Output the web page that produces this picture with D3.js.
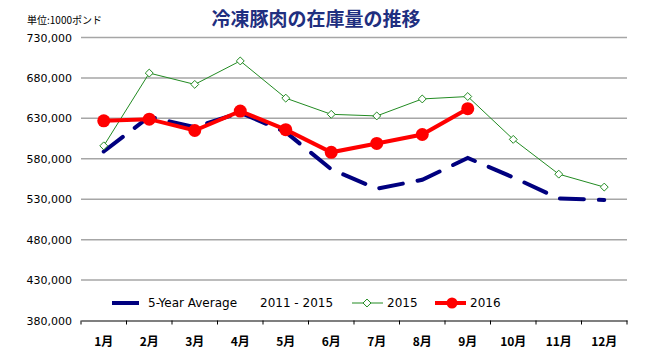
<!DOCTYPE html>
<html>
<head>
<meta charset="utf-8">
<script src="https://cdn.jsdelivr.net/npm/d3@7"></script>
<style>
  body { margin: 0; background: #fff; }
  svg { display: block; }
</style>
</head>
<body>
<div id="chart"></div>
<script>
const months = ["1月", "2月", "3月", "4月", "5月", "6月", "7月", "8月", "9月", "10月", "11月", "12月"];
const avg5 = [589000, 632000, 619000, 637000, 613000, 567000, 543000, 554000, 581000, 557000, 531000, 529000];
const y2015 = [596000, 686000, 672000, 701000, 655000, 635000, 633000, 654000, 657000, 604000, 561000, 545000];
const y2016 = [627000, 629000, 615000, 639000, 616000, 588000, 599000, 610000, 642000];
const yTicks = [380000, 430000, 480000, 530000, 580000, 630000, 680000, 730000];

const width = 650, height = 361;
const margin = { left: 81, right: 23, top: 37.5, bottom: 40 };

const svg = d3.select("#chart").append("svg")
  .attr("width", width)
  .attr("height", height);

const x = d3.scaleBand()
  .domain(months)
  .range([margin.left, width - margin.right]);

const y = d3.scaleLinear()
  .domain([380000, 730000])
  .range([height - margin.bottom - 0.5, margin.top]);

// gridlines
svg.append("g")
  .selectAll("line")
  .data(yTicks.slice(1))
  .enter().append("line")
  .attr("x1", margin.left)
  .attr("x2", width - margin.right)
  .attr("y1", d => y(d))
  .attr("y2", d => y(d))
  .attr("stroke", "#a6a6a6")
  .attr("stroke-width", 1.5);

// y labels
svg.append("g")
  .selectAll("text")
  .data(yTicks)
  .enter().append("text")
  .attr("x", 72)
  .attr("y", d => y(d) + 4)
  .attr("text-anchor", "end")
  .attr("font-family", "DejaVu Sans, sans-serif")
  .attr("font-size", 11)
  .attr("fill", "#000")
  .text(d => d3.format(",")(d));

// x axis
const xAxis = d3.axisBottom(x).tickSize(0).tickFormat(d => d);
const gx = svg.append("g")
  .attr("transform", `translate(0,${y(380000)})`)
  .call(xAxis);
gx.select(".domain").attr("stroke", "#000").attr("stroke-width", 1.2);
gx.selectAll("text")
  .attr("dy", "1.9em")
  .attr("font-family", "Noto Sans CJK JP, sans-serif")
  .attr("font-weight", "bold")
  .attr("font-size", 12)
  .attr("fill", "#000");
gx.selectAll(".bound")
  .data(months.concat(["end"]))
  .enter().append("line")
  .attr("class", "bound")
  .attr("x1", (d, i) => margin.left + i * x.step())
  .attr("x2", (d, i) => margin.left + i * x.step())
  .attr("y1", 0)
  .attr("y2", 4)
  .attr("stroke", "#000");

const cx = i => x(months[i]) + x.bandwidth() / 2;
const line = d3.line().x((d, i) => cx(i)).y(d => y(d));

// 5-year average
svg.append("path")
  .datum(avg5)
  .attr("d", line)
  .attr("fill", "none")
  .attr("stroke", "#00007f")
  .attr("stroke-width", 4)
  .attr("stroke-linecap", "round")
  .attr("stroke-dasharray", "24,15");

// 2015
svg.append("path")
  .datum(y2015)
  .attr("d", line)
  .attr("fill", "none")
  .attr("stroke", "#228b22")
  .attr("stroke-width", 1);
const diamond = d3.symbol().type(d3.symbolDiamond2).size(40);
svg.append("g")
  .selectAll("path")
  .data(y2015)
  .enter().append("path")
  .attr("d", diamond)
  .attr("transform", (d, i) => `translate(${cx(i)},${y(d)})`)
  .attr("fill", "#fff")
  .attr("stroke", "#228b22")
  .attr("stroke-width", 1);

// 2016
svg.append("path")
  .datum(y2016)
  .attr("d", line)
  .attr("fill", "none")
  .attr("stroke", "#ff0000")
  .attr("stroke-width", 4);
svg.append("g")
  .selectAll("circle")
  .data(y2016)
  .enter().append("circle")
  .attr("cx", (d, i) => cx(i))
  .attr("cy", d => y(d))
  .attr("r", 6.5)
  .attr("fill", "#ff0000");

// title and unit
svg.append("text")
  .attr("x", 316)
  .attr("y", 26)
  .attr("text-anchor", "middle")
  .attr("font-family", "Noto Sans CJK JP, sans-serif")
  .attr("font-weight", "bold")
  .attr("font-size", 19)
  .attr("fill", "#1f2f80")
  .text("冷凍豚肉の在庫量の推移");

svg.append("text")
  .attr("x", 27)
  .attr("y", 24)
  .attr("font-family", "Noto Sans CJK JP, sans-serif")
  .attr("font-size", 10)
  .attr("fill", "#000")
  .text("単位:1000ポンド");

// legend
const ly = 303;
const lg = svg.append("g")
  .attr("font-family", "DejaVu Sans, sans-serif")
  .attr("font-size", 12)
  .attr("fill", "#000");
lg.append("line").attr("x1", 112).attr("x2", 139).attr("y1", ly).attr("y2", ly)
  .attr("stroke", "#00007f").attr("stroke-width", 4);
lg.append("text").attr("x", 148).attr("y", ly + 4).text("5-Year Average");
lg.append("text").attr("x", 260).attr("y", ly + 4).text("2011 - 2015");
lg.append("line").attr("x1", 352).attr("x2", 383).attr("y1", ly).attr("y2", ly)
  .attr("stroke", "#228b22").attr("stroke-width", 1);
lg.append("path").attr("d", diamond)
  .attr("transform", `translate(367,${ly})`)
  .attr("fill", "#fff").attr("stroke", "#228b22");
lg.append("text").attr("x", 387).attr("y", ly + 4).text("2015");
lg.append("line").attr("x1", 435).attr("x2", 466).attr("y1", ly).attr("y2", ly)
  .attr("stroke", "#ff0000").attr("stroke-width", 4);
lg.append("circle").attr("cx", 452).attr("cy", ly).attr("r", 5.5).attr("fill", "#ff0000");
lg.append("text").attr("x", 470).attr("y", ly + 4).text("2016");
</script>
</body>
</html>
